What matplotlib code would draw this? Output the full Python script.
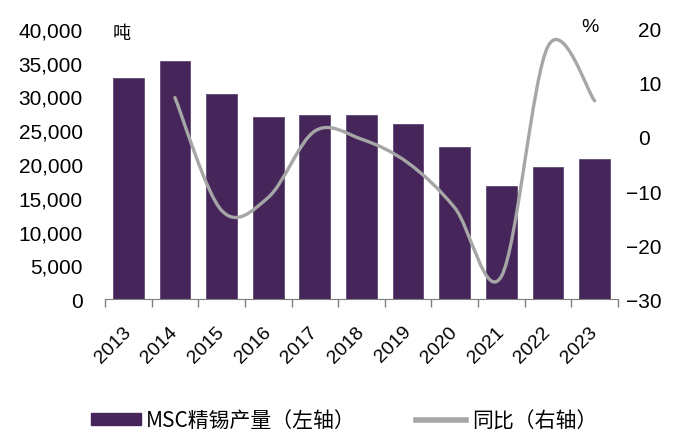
#MSC refined tin output (bars, left axis) with YoY change (smoothed line, right axis)
import numpy as np
import matplotlib
matplotlib.use('Agg')
import matplotlib.pyplot as plt
from matplotlib.path import Path
from matplotlib.patches import PathPatch
from matplotlib.lines import Line2D
from matplotlib.ticker import FuncFormatter
from matplotlib.transforms import ScaledTranslation

#Data
years = ['2013', '2014', '2015', '2016', '2017', '2018', '2019', '2020', '2021', '2022', '2023']
output = [32800, 35200, 30400, 27000, 27300, 27200, 25900, 22500, 16700, 19500, 20800]
yoy_years = years[1:]
yoy = [7.3, -13.6, -11.2, 1.1, -0.4, -4.8, -13.1, -25.8, 16.8, 6.7]

bar_label = 'MSC精锡产量（左轴）'
line_label = '同比（右轴）'

bar_color = '#46265A'
line_color = '#A6A6A6'

plt.rcParams['font.family'] = ['Liberation Sans', 'Noto Sans CJK SC']
plt.rcParams['axes.unicode_minus'] = True

fig = plt.figure(figsize=(6.88, 4.39), dpi=100)
ax = fig.add_axes([0.1526, 0.3166, 0.7456, 0.6151])
ax2 = ax.twinx()

x = np.arange(len(years))
ax.bar(x, output, width=0.66, color=bar_color, edgecolor='#5E4872', linewidth=0.6, zorder=2)

#Smoothed line (Excel style cubic bezier through the points)
xs = np.array([years.index(y) for y in yoy_years], dtype=float)
ys = np.array(yoy, dtype=float)
pts = np.column_stack([xs, ys])
verts = [pts[0]]
codes = [Path.MOVETO]
n = len(pts)
for i in range(n - 1):
    p0 = pts[i - 1] if i > 0 else pts[i]
    p1 = pts[i]
    p2 = pts[i + 1]
    p3 = pts[i + 2] if i + 2 < n else pts[i + 1]
    c1 = p1 + (p2 - p0) / 6.0
    c2 = p2 - (p3 - p1) / 6.0
    verts += [c1, c2, p2]
    codes += [Path.CURVE4] * 3
patch = PathPatch(Path(verts, codes), facecolor='none', edgecolor=line_color,
                  linewidth=2.4, capstyle='round', joinstyle='round', zorder=3)
ax2.add_patch(patch)

#Axes limits and ticks
ax.set_xlim(-0.5, len(years) - 0.5)
ax.set_ylim(0, 40000)
ax.set_yticks(np.arange(0, 40001, 5000))
ax.yaxis.set_major_formatter(FuncFormatter(lambda v, p: '{:,}'.format(int(v))))
ax2.set_ylim(-30, 20)
ax2.set_yticks(np.arange(-30, 21, 10))

ax.set_xticks(x)
ax.set_xticklabels(years, rotation=45, ha='right', va='top', fontsize=14)
ax.set_xticks(np.arange(-0.5, len(years), 1), minor=True)
ax.tick_params(axis='x', which='major', length=0, pad=17)
ax.tick_params(axis='x', which='minor', length=6, width=1, color='#7F7F7F', direction='out')
ax.tick_params(axis='y', length=0, labelsize=15, pad=16)
ax2.tick_params(axis='y', length=0, labelsize=15, pad=6)

for s in ['top', 'left', 'right']:
    ax.spines[s].set_visible(False)
    ax2.spines[s].set_visible(False)
ax.spines['bottom'].set_color('#7F7F7F')
ax2.spines['bottom'].set_visible(False)

#Nudge year labels right, and positive right-axis labels so the minus sign hangs left
shift = ScaledTranslation(6 / 100, 0, fig.dpi_scale_trans)
for lab in ax.get_xticklabels():
    lab.set_transform(lab.get_transform() + shift)
shift2 = ScaledTranslation(12 / 100, 0, fig.dpi_scale_trans)
for tick, val in zip(ax2.yaxis.get_major_ticks(), ax2.get_yticks()):
    if val >= 0:
        tick.label2.set_transform(tick.label2.get_transform() + shift2)

#Units
fig.text(0.177, 0.922, '吨', fontsize=13, ha='center', va='center', family='Noto Sans CJK SC')
fig.text(0.858, 0.937, '%', fontsize=14, ha='center', va='center')

#Legend
handles = [plt.Rectangle((0, 0), 1, 1, color=bar_color),
           Line2D([0], [0], color=line_color, linewidth=4)]
fig.legend(handles, [bar_label, line_label], loc='center', bbox_to_anchor=(0.5, 0.04),
           ncol=2, frameon=False, prop={'family': 'Noto Sans CJK SC', 'size': 15},
           handlelength=2.4, handleheight=0.55, handletextpad=0.25, columnspacing=2.9)

fig.savefig('out.png', dpi=100)
